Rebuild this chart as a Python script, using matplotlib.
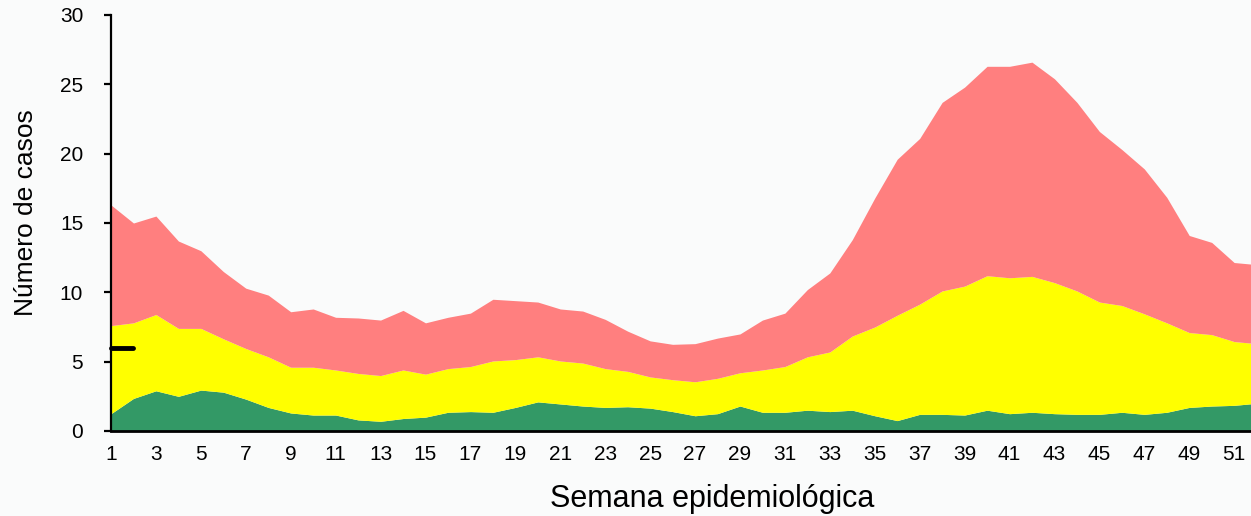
import matplotlib
matplotlib.use("Agg")
import matplotlib.pyplot as plt
import numpy as np

# canal endémico: semanas 1-52
semanas = np.arange(1, 53)

# limite inferior (zona de éxito)
verde = [1.25, 2.35, 2.9, 2.5, 2.95, 2.8, 2.3, 1.7, 1.3, 1.15,
         1.15, 0.8, 0.7, 0.9, 1.0, 1.35, 1.4, 1.35, 1.7, 2.1,
         1.95, 1.8, 1.7, 1.75, 1.65, 1.4, 1.1, 1.25, 1.8, 1.35,
         1.35, 1.5, 1.4, 1.5, 1.1, 0.75, 1.2, 1.2, 1.15, 1.5,
         1.25, 1.35, 1.25, 1.2, 1.2, 1.35, 1.2, 1.35, 1.7, 1.8,
         1.85, 2.0]

# mediana (zona de seguridad)
amarillo = [7.6, 7.8, 8.4, 7.4, 7.4, 6.65, 5.95, 5.35, 4.6, 4.6,
            4.4, 4.15, 4.0, 4.4, 4.1, 4.5, 4.65, 5.05, 5.15, 5.35,
            5.05, 4.9, 4.5, 4.3, 3.9, 3.7, 3.55, 3.8, 4.2, 4.4,
            4.65, 5.35, 5.7, 6.85, 7.5, 8.35, 9.15, 10.1, 10.45, 11.2,
            11.05, 11.15, 10.7, 10.1, 9.3, 9.05, 8.45, 7.8, 7.1, 6.95,
            6.45, 6.3]

# limite superior (zona de alarma)
rojo = [16.3, 15.0, 15.5, 13.7, 13.0, 11.5, 10.3, 9.8, 8.6, 8.8,
        8.2, 8.15, 8.0, 8.7, 7.8, 8.2, 8.5, 9.5, 9.4, 9.3,
        8.8, 8.65, 8.05, 7.2, 6.5, 6.25, 6.3, 6.7, 7.0, 8.0,
        8.5, 10.2, 11.4, 13.8, 16.8, 19.6, 21.1, 23.7, 24.8, 26.3,
        26.3, 26.6, 25.4, 23.7, 21.6, 20.3, 18.9, 16.85, 14.1, 13.6,
        12.15, 12.0]

# casos del año actual
semanas_actual = [1, 2]
casos_actual = [6, 6]

fondo = "#fafbfb"
plt.rcParams["font.family"] = ["Liberation Sans", "DejaVu Sans"]

fig = plt.figure(figsize=(12.51, 5.16), dpi=100, facecolor=fondo)
ax = fig.add_axes([111 / 1251, 85 / 516, 1140 / 1251, 416 / 516])
ax.set_facecolor(fondo)

ax.fill_between(semanas, 0, verde, color="#339966", lw=0)
ax.fill_between(semanas, verde, amarillo, color="#ffff00", lw=0)
ax.fill_between(semanas, amarillo, rojo, color="#ff7f7f", lw=0)
ax.plot(semanas_actual, casos_actual, color="black", lw=3.5, solid_capstyle="round", clip_on=False, zorder=5)

ax.set_xlim(1, 51.75)
ax.set_ylim(0, 30)
ax.set_xticks(np.arange(1, 52, 2))
ax.set_yticks(np.arange(0, 31, 5))
ax.tick_params(axis="x", length=0, pad=10, labelsize=15)
ax.tick_params(axis="y", length=5, width=1.6, pad=15, labelsize=15, direction="out")

for s in ["top", "right"]:
    ax.spines[s].set_visible(False)
ax.spines["left"].set_linewidth(1.6)
ax.spines["bottom"].set_linewidth(2)
ax.spines["bottom"].set_zorder(6)

ax.set_xlabel("Semana epidemiológica", fontsize=22)
ax.xaxis.set_label_coords(0.527, -0.128)
ax.set_ylabel("Número de casos", fontsize=19)
ax.yaxis.set_label_coords(-0.064, 0.524)

plt.savefig("out.png", dpi=100, facecolor=fondo)
